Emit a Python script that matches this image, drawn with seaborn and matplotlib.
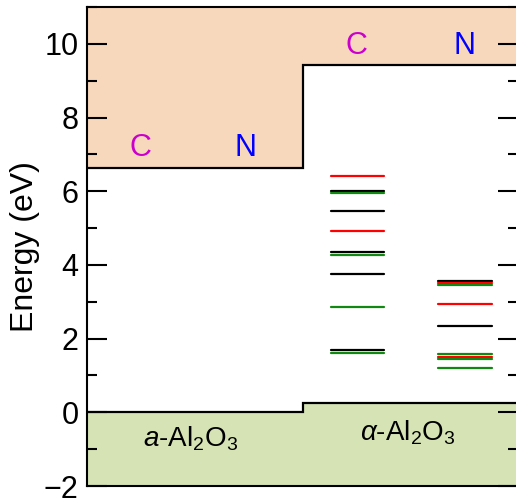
import matplotlib
matplotlib.use("Agg")
import matplotlib.pyplot as plt
import seaborn as sns
import pandas as pd
import numpy as np
from matplotlib.ticker import MultipleLocator

# ---- data ----
regions = ["a-Al2O3", "α-Al2O3"]
region_edges = [0.0, 0.5, 1.0]
cb_levels = [6.62, 9.42]      # conduction band minimum (eV)
vb_levels = [0.0, 0.24]       # valence band maximum (eV)

# defect levels in alpha-Al2O3
c_levels = [6.42, 6.00, 5.94, 5.45, 4.92, 4.34, 4.26, 3.75, 2.87, 1.70, 1.60]
c_colors = ["red", "black", "green", "black", "red", "black", "green", "black", "green", "black", "green"]
n_levels = [3.57, 3.52, 3.46, 2.95, 2.34, 1.58, 1.49, 1.46, 1.20]
n_colors = ["black", "red", "green", "red", "black", "green", "red", "green", "green"]
c_span = [0.565, 0.689]
n_span = [0.814, 0.940]

label_species = ["C", "N", "C", "N"]
label_x = [0.123, 0.367, 0.626, 0.877]
label_y = [7.18, 7.18, 9.95, 9.95]
label_colors = ["#CC00CC", "#0000FF", "#CC00CC", "#0000FF"]

# ---- style ----
sns.set_style("ticks")
plt.rcParams["font.family"] = ["Liberation Sans", "DejaVu Sans"]
plt.rcParams["mathtext.fontset"] = "custom"
plt.rcParams["mathtext.rm"] = "Liberation Sans"
plt.rcParams["mathtext.it"] = "Liberation Sans:italic"
plt.rcParams["text.color"] = "black"
plt.rcParams["axes.labelcolor"] = "black"
plt.rcParams["ytick.color"] = "black"
plt.rcParams["xtick.color"] = "black"
plt.rcParams["ytick.labelcolor"] = "black"

fig = plt.figure(figsize=(5.16, 5.04), dpi=100)
ax = fig.add_axes([87/516, 1 - 486/504, (518 - 87)/516, (486 - 7)/504])
ymin, ymax = -2, 11

# band fills
step_x = [region_edges[0], region_edges[1], region_edges[1], region_edges[2]]
cb_y = [cb_levels[0], cb_levels[0], cb_levels[1], cb_levels[1]]
vb_y = [vb_levels[0], vb_levels[0], vb_levels[1], vb_levels[1]]
ax.fill_between(step_x, cb_y, ymax, color="#F8D8BC", zorder=0, lw=0)
ax.fill_between(step_x, ymin, vb_y, color="#D6E4B5", zorder=0, lw=0)
ax.plot(step_x, cb_y, color="black", lw=1.6, zorder=2, solid_joinstyle="miter")
ax.plot(step_x, vb_y, color="black", lw=1.6, zorder=2, solid_joinstyle="miter")

# defect levels via seaborn
rows = []
lid = 0
for lev, col in zip(c_levels, c_colors):
    for x in c_span:
        rows.append(dict(x=x, E=lev, color=col, lid=lid))
    lid += 1
for lev, col in zip(n_levels, n_colors):
    for x in n_span:
        rows.append(dict(x=x, E=lev, color=col, lid=lid))
    lid += 1
df = pd.DataFrame(rows)
palette = {"red": "#FF0000", "black": "#000000", "green": "#118811"}
for lid_, sub in df.groupby("lid", sort=True):
    sns.lineplot(data=sub, x="x", y="E", hue="color", palette=palette,
                 estimator=None, legend=False, lw=1.6, ax=ax, zorder=3)

# labels
for s, x, y, c in zip(label_species, label_x, label_y, label_colors):
    ax.text(x, y, s, color=c, fontsize=22, ha="center", va="center")
ax.text(0.239, -0.72, r"$a$-Al$_2$O$_3$", fontsize=20, ha="center", va="center", color="black")
ax.text(0.745, -0.55, r"$\alpha$-Al$_2$O$_3$", fontsize=20, ha="center", va="center", color="black")

ax.set_xlim(0, 1)
ax.set_ylim(ymin, ymax)
ax.set_xlabel("")
ax.set_xticks([])
ax.yaxis.set_major_locator(MultipleLocator(2))
ax.yaxis.set_minor_locator(MultipleLocator(1))
ax.set_yticks(np.arange(-2, 11, 2))
ax.tick_params(axis="y", which="both", direction="in", left=True, right=True,
               width=1.5, labelsize=22, pad=6, color="black", labelcolor="black")
ax.tick_params(axis="y", which="major", length=14.5)
ax.tick_params(axis="y", which="minor", length=7)
ax.set_ylabel("Energy (eV)", fontsize=23, labelpad=3, color="black")
for sp in ax.spines.values():
    sp.set_linewidth(1.5)
    sp.set_color("black")

fig.savefig("out.png", dpi=100)
